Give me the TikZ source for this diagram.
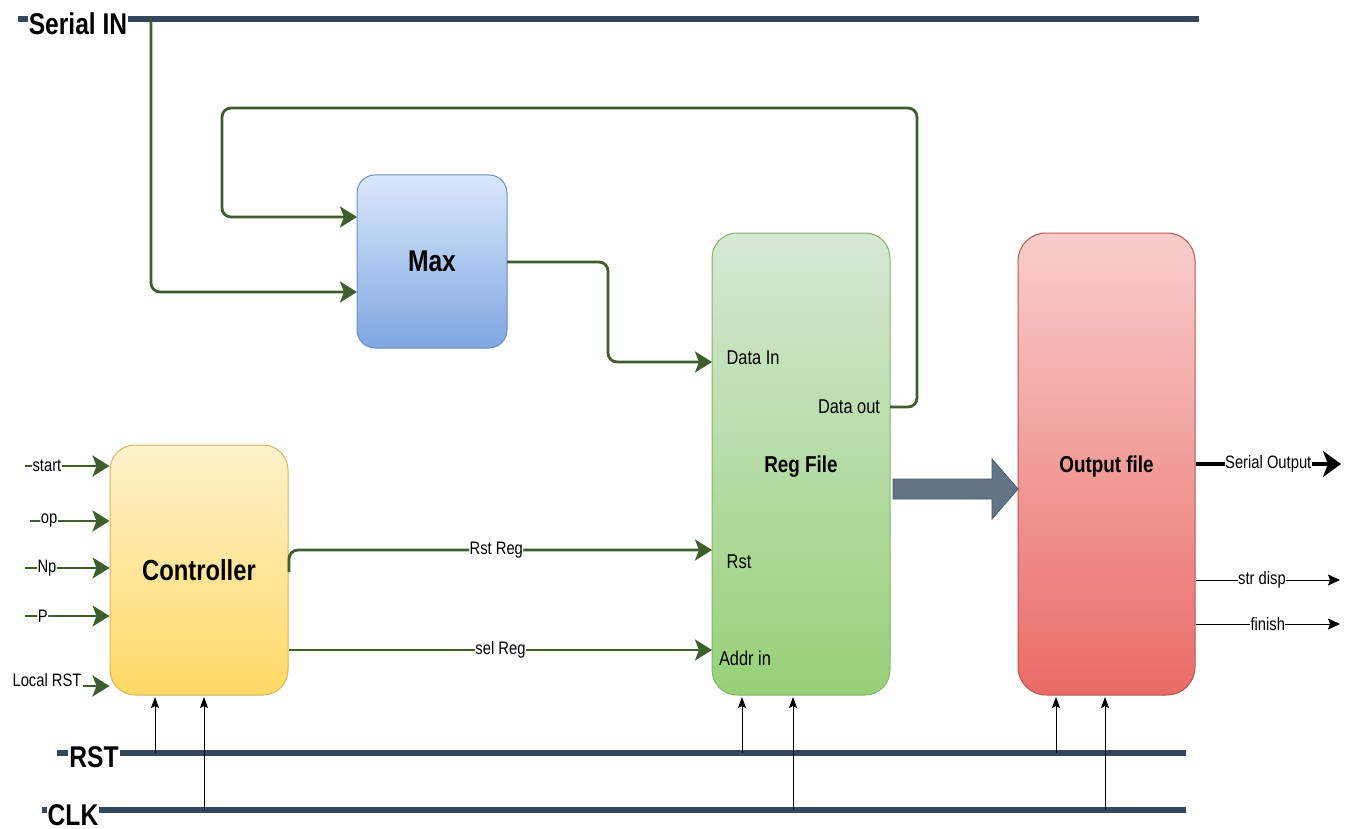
\documentclass[tikz,border=0pt]{standalone}
\usepackage{fontspec}
\setmainfont{Liberation Sans}[FakeStretch=0.82]
\usetikzlibrary{arrows.meta,calc,shadings}

\definecolor{busblue}{RGB}{52,71,92}
\definecolor{wiregreen}{RGB}{62,94,46}
\definecolor{fatfill}{RGB}{98,116,133}
\definecolor{fatdraw}{RGB}{70,88,104}
\newcommand\fsz[1]{\fontsize{#1}{#1}\selectfont}

\tikzset{
  bus/.style={draw=busblue, line width=6pt},
  buslabel/.style={fill=white, inner sep=1pt, font=\fsz{30}\bfseries},
  wire/.style={draw=wiregreen, line width=2.8pt, rounded corners=9pt,
    -{Stealth[length=17pt,width=21pt,inset=4pt]}},
  karrow/.style={draw=black, line width=1pt, -{Stealth[length=11pt,width=8pt,inset=2pt]}},
  wlabel/.style={fill=white, inner sep=0.5pt, font=\fsz{18}},
  portlabel/.style={inner sep=0pt, font=\fsz{20}},
  block/.style={rounded corners=#1, line width=1pt, inner sep=0pt},
}

\begin{document}
\begin{tikzpicture}[x=1pt, y=-1pt]
\useasboundingbox (0,0) rectangle (1346,829);

% ---- buses ----
\draw[bus] (18,19) -- (1199,19);
\node[buslabel] (serin) at (78,24) {Serial IN};
\draw[bus] (57,753) -- (1186,753);
\node[buslabel] (rstl) at (94,757) {RST};
\draw[bus] (42,810) -- (1186,810);
\node[buslabel] (clkl) at (73,815) {CLK};

% ---- blocks ----
\node[block=18pt, draw={rgb,255:red,108;green,142;blue,191},
      top color={rgb,255:red,218;green,232;blue,252},
      bottom color={rgb,255:red,126;green,166;blue,224},
      minimum width=150pt, minimum height=173pt, font=\fsz{30}\bfseries]
  (max) at (432,261.5) {Max};
\node[block=25pt, draw={rgb,255:red,214;green,182;blue,86},
      top color={rgb,255:red,255;green,242;blue,204},
      bottom color={rgb,255:red,255;green,217;blue,102},
      minimum width=178pt, minimum height=250pt, font=\fsz{29}\bfseries]
  (ctl) at (199,570) {Controller};
\node[block=25pt, draw={rgb,255:red,130;green,179;blue,102},
      top color={rgb,255:red,213;green,232;blue,212},
      bottom color={rgb,255:red,151;green,208;blue,119},
      minimum width=178pt, minimum height=462pt, font=\fsz{23}\bfseries,
      text depth=-4pt]
  (rf) at (801,464) {Reg File};
\node[block=28pt, draw={rgb,255:red,184;green,84;blue,80},
      top color={rgb,255:red,248;green,206;blue,204},
      bottom color={rgb,255:red,234;green,107;blue,102},
      minimum width=177pt, minimum height=462pt, font=\fsz{23}\bfseries,
      text depth=-4pt]
  (out) at (1106.5,464) {Output file};

% ---- port labels of the register file ----
\node[portlabel] (ldin) at (753,358) {Data In};
\node[portlabel] (ldout) at (849,407) {Data out};
\node[portlabel] (lrst) at (739,562) {Rst};
\node[portlabel] (laddr) at (745,658) {Addr in};

% ---- port coordinates ----
\coordinate (tap) at (151,19);
\coordinate (maxinA) at (357,217);
\coordinate (maxinB) at (357,292);
\coordinate (maxout) at (507,262);
\coordinate (rfdin) at (712,362);
\coordinate (rfdout) at (890,407);
\coordinate (ctlrst) at (289,572);
\coordinate (rfrst) at (712,550);
\coordinate (ctlsel) at (289,650);
\coordinate (rfaddr) at (712,650);

% ---- data path wires ----
\draw[wire] (tap) -- (151,292) -- (maxinB);
\draw[wire] (rfdout) -- (917,407) -- (917,108) -- (222,108) -- (222,217) -- (maxinA);
\draw[wire] (maxout) -- (608,262) -- (608,362) -- (rfdin);
\draw[wire] (ctlrst) -- (289,550) -- (rfrst) node[wlabel, pos=0.49] {Rst Reg};
\draw[wire] (ctlsel) -- (rfaddr) node[wlabel, pos=0.5] {sel Reg};

% ---- controller inputs ----
\coordinate (istart) at (25,466);
\coordinate (iop) at (30,521);
\coordinate (inp) at (25,568);
\coordinate (ip) at (25,616);
\coordinate (ilrst) at (83,686);
\draw[wire] (istart) -- (istart -| ctl.west) node[wlabel, pos=0.26] {start};
\draw[wire] (iop) -- (iop -| ctl.west) node[wlabel, pos=0.24] {op};
\draw[wire] (inp) -- (inp -| ctl.west) node[wlabel, pos=0.26] {Np};
\draw[wire] (ip) -- (ip -| ctl.west) node[wlabel, pos=0.21] {P};
\node[wlabel] (llrst) at (47,680) {Local RST};
\draw[wire] (ilrst) -- (ilrst -| ctl.west);

% ---- reset and clock taps ----
\foreach \x/\b in {155/753, 204/810, 742/753, 793/810, 1056/753, 1105/810} {
  \coordinate (t) at (\x,\b);
  \draw[karrow] (t) -- (\x,697);
}

% ---- wide transfer arrow ----
\draw[fill=fatfill, draw=fatdraw, line width=0.8pt, line join=miter]
  (893,479) -- (992,479) -- (992,459) -- (1018,489) -- (992,519) -- (992,499) -- (893,499) -- cycle;

% ---- outputs ----
\coordinate (oser) at (1341,464);
\coordinate (ostr) at (1340,580);
\coordinate (ofin) at (1340,624);
\draw[line width=3.5pt, -{Stealth[length=18pt,width=26pt,inset=5pt]}]
  (out.east |- oser) -- (oser) node[wlabel, pos=0.5] {Serial Output};
\draw[line width=1pt, -{Stealth[length=12pt,width=11pt,inset=2pt]}]
  (out.east |- ostr) -- (ostr) node[wlabel, pos=0.46] {str disp};
\draw[line width=1pt, -{Stealth[length=12pt,width=11pt,inset=2pt]}]
  (out.east |- ofin) -- (ofin) node[wlabel, pos=0.5] {finish};
\end{tikzpicture}
\end{document}
